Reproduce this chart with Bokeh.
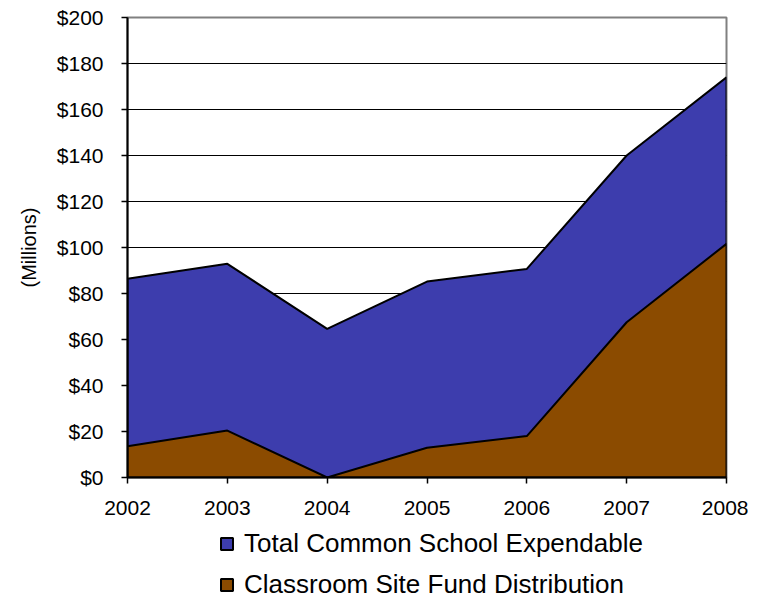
from bokeh.plotting import figure
from bokeh.layouts import column
from bokeh.models import Range1d, FixedTicker, NumeralTickFormatter, Legend, LegendItem
from bokeh.embed import file_html
from bokeh.resources import INLINE

years = [2002, 2003, 2004, 2005, 2006, 2007, 2008]
total_common = [86.4, 92.9, 64.6, 85.2, 90.7, 140.0, 174.0]
classroom_site = [13.6, 20.4, 0.0, 12.9, 18.0, 67.5, 101.6]
y_ticks = [0, 20, 40, 60, 80, 100, 120, 140, 160, 180, 200]
series_names = ["Total Common School Expendable", "Classroom Site Fund Distribution"]
colors = ["#3D3DAD", "#8B4B00"]

FONT = "Liberation Sans"

p = figure(width=748, height=526, output_backend="svg", toolbar_location=None,
           x_range=Range1d(years[0], years[-1]), y_range=Range1d(y_ticks[0], y_ticks[-1]),
           min_border_left=127, min_border_right=22, min_border_top=17, min_border_bottom=49)

def area_xy(xs, ys):
    return xs + xs[::-1], ys + [0] * len(ys)

xs1, ys1 = area_xy(years, total_common)
xs2, ys2 = area_xy(years, classroom_site)
r_total = p.patch(xs1, ys1, fill_color=colors[0], line_color="black", line_width=2)
r_class = p.patch(xs2, ys2, fill_color=colors[1], line_color="black", line_width=2)

# grid
p.xgrid.visible = False
p.ygrid.ticker = FixedTicker(ticks=y_ticks[1:-1])
p.ygrid.grid_line_color = "black"
p.ygrid.grid_line_width = 1

p.outline_line_color = "#808080"
p.outline_line_width = 2

# axes
p.xaxis.ticker = FixedTicker(ticks=years)
p.yaxis.ticker = FixedTicker(ticks=y_ticks)
p.yaxis.formatter = NumeralTickFormatter(format="$0")
for ax in (p.xaxis[0], p.yaxis[0]):
    ax.axis_line_color = "black"
    ax.axis_line_width = 2
    ax.major_tick_line_color = "black"
    ax.major_tick_line_width = 1.5
    ax.major_tick_in = 0
    ax.major_tick_out = 6
    ax.minor_tick_line_color = None
    ax.major_label_text_font = FONT
    ax.major_label_text_font_size = "21px"
    ax.major_label_text_color = "black"
p.xaxis.major_label_standoff = 17
p.yaxis.major_label_standoff = 18
p.yaxis.axis_label = "(Millions)"
p.yaxis.axis_label_text_font = FONT
p.yaxis.axis_label_text_font_size = "20px"
p.yaxis.axis_label_text_font_style = "normal"
p.yaxis.axis_label_text_color = "black"
p.yaxis.axis_label_standoff = 14

# legend strip below the chart (its renderers are kept outside its visible range)
pl = figure(width=748, height=74, output_backend="svg", toolbar_location=None,
            x_axis_type=None, y_axis_type=None,
            x_range=Range1d(years[0], years[-1]), y_range=Range1d(-2, -1),
            min_border_left=127, min_border_right=22, min_border_top=0, min_border_bottom=0)
pl.outline_line_color = None
pl.grid.visible = False
lr_total = pl.patch(xs1, ys1, fill_color=colors[0], line_color="black", line_width=2)
lr_class = pl.patch(xs2, ys2, fill_color=colors[1], line_color="black", line_width=2)

legend = Legend(items=[LegendItem(label=series_names[0], renderers=[lr_total]),
                       LegendItem(label=series_names[1], renderers=[lr_class])],
                location=(92, 0), orientation="vertical",
                label_text_font=FONT, label_text_font_size="26px", label_text_color="black",
                glyph_width=15, glyph_height=15, label_height=30, spacing=10,
                label_standoff=10, padding=0, margin=0,
                border_line_color=None, background_fill_alpha=0)
pl.add_layout(legend, "center")

layout = column(p, pl, spacing=0)
open("out.html", "w").write(file_html(layout, INLINE))
